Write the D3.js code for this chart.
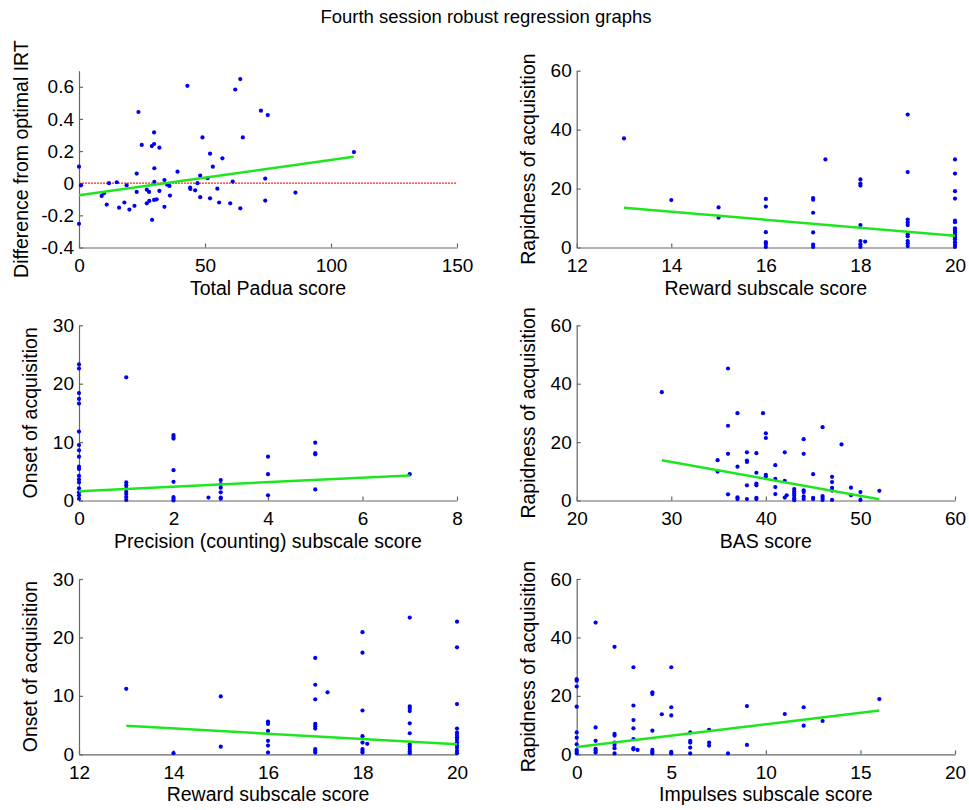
<!DOCTYPE html>
<html lang="en">
<head>
<meta charset="UTF-8">
<title>Fourth session robust regression graphs</title>
<style>
  body { margin: 0; background: #fff; }
  svg { display: block; font-family: Arial, "Liberation Sans", sans-serif; }
  .axis text { font-size: 19px; fill: #000; }
  .axis path, .axis line { stroke: #666; stroke-width: 1.2; }
  .label { font-size: 19.5px; fill: #000; }
  .title { font-size: 18.5px; fill: #000; }
</style>
</head>
<body>
<svg id="chart" width="969" height="810"></svg>
<script src="https://d3js.org/d3.v7.min.js"></script>
<script>
const chartTitle = "Fourth session robust regression graphs";

// panel 1: Total Padua score vs difference from optimal IRT
const paduaIrt = [[0,0.103],[0.8,-0.013],[0,-0.253],[9,-0.079],[9.9,-0.062],[11,-0.133],[11.9,0.0],[15,0.006],
  [15.9,-0.152],[18,-0.12],[18.9,-0.013],[20,-0.164],[22,-0.141],[22.9,0.06],[22.9,-0.054],[23.6,0.443],
  [24.9,0.238],[26.9,-0.04],[26.9,-0.125],[27.8,-0.054],[27.9,-0.11],[28.9,0.231],[29,-0.228],[29.8,0.244],
  [29.8,0.316],[29.9,0.093],[29.9,0.008],[29.8,-0.104],[30.8,-0.1],[31.9,0.221],[31.9,-0.048],[33.9,0.02],
  [33.9,-0.147],[35,-0.009],[35.9,-0.017],[36.1,-0.077],[39.1,0.072],[43,0.606],[44.1,-0.027],[44.2,-0.036],
  [46.1,-0.044],[47,0.0],[48.1,0.047],[48.1,-0.087],[49,0.285],[51,0.031],[52,0.184],[52,-0.094],[53.1,0.103],
  [54.9,-0.034],[55.6,-0.12],[56.9,0.155],[60,-0.125],[61,0.01],[62,0.583],[64,0.648],[64,-0.156],[65,0.285],
  [72.2,0.451],[73.9,0.029],[73.9,-0.108],[74.9,0.424],[85.9,-0.058],[109.1,0.194]];
const paduaIrtFit = [[0,-0.075],[109,0.165]];
const paduaXTicks = [0, 50, 100, 150];
const irtYTicks = [-0.4, -0.2, 0, 0.2, 0.4, 0.6];

// panel 2: reward subscale vs rapidness of acquisition
const rewardRapid = [[13,37.0],[14,16.1],[15,13.6],[15,10.1],[16,16.5],[16,13.9],[16,5.2],[16,1.8],[16,1.2],[16,0.2],
  [17,16.8],[17,16.2],[17,11.8],[17,5.1],[17,1.0],[17,0.2],[17.26,29.9],[18,23.1],[18,21.7],[18,21.0],[18,7.6],
  [18,2.2],[18,1.1],[18,0.2],[18.1,2.0],[19,45.1],[19,25.6],[19,9.5],[19,8.5],[19,7.6],[19,4.5],[19,3.8],[19,2.2],
  [19,1.4],[19,0.5],[20,29.9],[20,25.1],[20,19.1],[20,16.6],[20,9.1],[20,8.6],[20,6.5],[20,5.8],[20,5.1],[20,4.3],
  [20,3.5],[20,2.8],[20,1.8],[20,0.9],[20,0.2]];
const rewardRapidFit = [[13,13.5],[20,4.0]];

// panel 3: precision (counting) subscale vs onset of acquisition
const precisionOnset = [[0,23.3],[0,22.6],[0,18.4],[0,17.4],[0,16.6],[0,11.8],[0,9.5],[0,8.6],[0,7.5],[0,5.8],[0,5.4],
  [0,4.2],[0,3.6],[0,3.1],[0,2.1],[0,1.4],[0,0.9],[0,0.3],[1,21.1],[1,3.1],[1,2.6],[1,2.1],[1,1.5],[1,1.1],[1,0.6],
  [1,0.1],[2,11.2],[2,10.9],[2,10.6],[2,5.2],[2,3.2],[2,0.6],[2,0.3],[2,0.0],[2.74,0.5],[3,3.5],[3,2.8],[3,2.2],
  [3,1.4],[3,0.5],[3,0.3],[4,7.5],[4,4.5],[4,0.9],[5,9.9],[5,8.1],[5,7.9],[5,1.9],[7,4.5]];
const precisionOnsetFit = [[0,1.6],[7,4.3]];

// panel 4: BAS score vs rapidness of acquisition
const basRapid = [[29,37.1],[34.9,13.8],[34.9,9.9],[36,45.2],[36,25.6],[36,16.0],[36,2.1],[37,29.9],[37,11.6],[37,1.1],
  [37,0.5],[38,16.5],[38,13.7],[38,13.2],[38,5.2],[38,0.5],[39,16.2],[39,9.5],[39,5.8],[39,5.2],[39,0.9],[39,0.5],
  [39.7,29.9],[40,23.0],[40,21.4],[40,8.8],[40,8.2],[41,12.1],[41,7.4],[41,4.6],[41,2.2],[42,16.5],[42,6.7],[42,1.0],
  [42.2,1.8],[43,3.9],[43,3.1],[43,2.4],[43,1.6],[43,0.7],[43,0.1],[44,21.0],[44,16.0],[44,3.5],[44,2.9],[44,1.4],
  [44,0.5],[45,9.0],[45,0.9],[45,0.5],[46,25.1],[46,1.5],[46,0.9],[46,0.2],[47,8.1],[47,6.3],[47,4.3],[47,3.4],
  [47,0.2],[48,19.2],[49,4.4],[49,1.8],[50,2.9],[50,0.2],[52,3.3]];
const basRapidFit = [[29,13.8],[52,0.4]];

// panel 5: reward subscale vs onset of acquisition
const rewardOnset = [[13,11.2],[14,0.2],[15,9.9],[15,1.3],[16,5.6],[16,5.2],[16,4.0],[16,2.3],[16,1.5],[16,0.3],
  [17,16.5],[17,11.9],[17,9.4],[17,5.2],[17,4.8],[17,4.4],[17,0.9],[17,0.6],[17,0.3],[17.26,10.6],[18,20.9],
  [18,17.4],[18,7.5],[18,3.1],[18,2.0],[18,0.9],[18,0.6],[18,0.3],[18.1,1.8],[19,23.4],[19,8.2],[19,7.8],[19,7.4],
  [19,5.3],[19,3.6],[19,1.7],[19,1.3],[19,0.9],[19,0.5],[19,0.2],[20,22.7],[20,18.3],[20,8.6],[20,4.4],[20,3.7],
  [20,3.3],[20,2.9],[20,2.5],[20,2.0],[20,1.5],[20,1.1],[20,0.6],[20,0.2]];
const rewardOnsetFit = [[13,4.9],[20,1.7]];

// panel 6: impulses subscale vs rapidness of acquisition
const impulsesRapid = [[0,25.7],[0,25.2],[0,23.2],[0,16.3],[0,7.5],[0,5.7],[0,3.4],[0,1.5],[0,0.9],[0,0.3],[1,45.1],
  [1,9.2],[1,4.6],[1,1.9],[1,1.3],[1,0.6],[2,36.8],[2,7.0],[2,6.4],[2,4.0],[2,3.2],[2,2.1],[2,0.3],[3,29.8],[3,16.7],
  [3,11.7],[3,8.9],[3,5.2],[3,2.1],[3,1.7],[3.22,1.5],[4,21.2],[4,20.6],[4,8.1],[4,1.5],[4,0.9],[4,0.3],[4.5,13.7],
  [5,29.8],[5,16.1],[5,13.3],[5,0.8],[5,0.3],[6,7.5],[6,4.6],[6,4.0],[6,2.3],[6,0.3],[7,8.4],[7,4.0],[7,3.0],[8,0.3],
  [9,16.5],[9,3.2],[11,13.8],[12,16.1],[12,9.8],[13,11.4],[16,18.9]];
const impulsesRapidFit = [[0,2.5],[16,15.0]];

const rewardXTicks = [12, 14, 16, 18, 20];
const precisionXTicks = [0, 2, 4, 6, 8];
const basXTicks = [20, 30, 40, 50, 60];
const impulsesXTicks = [0, 5, 10, 15, 20];
const rapidYTicks = [0, 20, 40, 60];
const onsetYTicks = [0, 10, 20, 30];

const svg = d3.select("#chart");

svg.append("text")
  .attr("class", "title")
  .attr("x", 486)
  .attr("y", 23)
  .attr("text-anchor", "middle")
  .text(chartTitle);

// left column / right column, three rows
const cols = [[79, 457], [576.7, 955]];
const rows = [[70.7, 247.5], [325.3, 500.5], [579, 754.3]];

const panels = [
  { col: 0, row: 0, pts: paduaIrt, fit: paduaIrtFit, xd: [0, 150], yd: [-0.4, 0.7], xt: paduaXTicks, yt: irtYTicks,
    xl: "Total Padua score", yl: "Difference from optimal IRT", ylOff: 51, zero: true },
  { col: 1, row: 0, pts: rewardRapid, fit: rewardRapidFit, xd: [12, 20], yd: [0, 60], xt: rewardXTicks, yt: rapidYTicks,
    xl: "Reward subscale score", yl: "Rapidness of acquisition", ylOff: 42 },
  { col: 0, row: 1, pts: precisionOnset, fit: precisionOnsetFit, xd: [0, 8], yd: [0, 30], xt: precisionXTicks, yt: onsetYTicks,
    xl: "Precision (counting) subscale score", yl: "Onset of acquisition", ylOff: 42 },
  { col: 1, row: 1, pts: basRapid, fit: basRapidFit, xd: [20, 60], yd: [0, 60], xt: basXTicks, yt: rapidYTicks,
    xl: "BAS score", yl: "Rapidness of acquisition", ylOff: 42 },
  { col: 0, row: 2, pts: rewardOnset, fit: rewardOnsetFit, xd: [12, 20], yd: [0, 30], xt: rewardXTicks, yt: onsetYTicks,
    xl: "Reward subscale score", yl: "Onset of acquisition", ylOff: 42 },
  { col: 1, row: 2, pts: impulsesRapid, fit: impulsesRapidFit, xd: [0, 20], yd: [0, 60], xt: impulsesXTicks, yt: rapidYTicks,
    xl: "Impulses subscale score", yl: "Rapidness of acquisition", ylOff: 42 }
];

const fmt = d => String(+d.toFixed(1));

panels.forEach(p => {
  const [x0, x1] = cols[p.col];
  const [y0, y1] = rows[p.row];
  const x = d3.scaleLinear().domain(p.xd).range([x0, x1]);
  const y = d3.scaleLinear().domain(p.yd).range([y1, y0]);
  const g = svg.append("g");

  // zero reference line (first panel only)
  if (p.zero) {
    g.append("line")
      .attr("x1", x(p.xd[0])).attr("x2", x(p.xd[1]))
      .attr("y1", y(0)).attr("y2", y(0))
      .attr("stroke", "#f22")
      .attr("stroke-width", 1.3)
      .attr("stroke-dasharray", "2,1");
  }

  g.append("g")
    .attr("class", "axis")
    .attr("transform", `translate(0,${y1})`)
    .call(d3.axisBottom(x).tickValues(p.xt).tickFormat(fmt).tickSizeInner(-4).tickSizeOuter(0).tickPadding(11));

  g.append("g")
    .attr("class", "axis")
    .attr("transform", `translate(${x0},0)`)
    .call(d3.axisLeft(y).tickValues(p.yt).tickFormat(fmt).tickSizeInner(-4).tickSizeOuter(0).tickPadding(5));

  g.selectAll(".axis .domain").attr("stroke", "#666");

  // data points
  g.selectAll("circle")
    .data(p.pts)
    .enter()
    .append("circle")
    .attr("cx", d => x(d[0]))
    .attr("cy", d => y(d[1]))
    .attr("r", 2.1)
    .attr("fill", "#0000f0");

  // robust fit line
  g.append("path")
    .datum(p.fit)
    .attr("fill", "none")
    .attr("stroke", "#1ee61e")
    .attr("stroke-width", 2.5)
    .attr("d", d3.line().x(d => x(d[0])).y(d => y(d[1])));

  // labels
  g.append("text")
    .attr("class", "label")
    .attr("x", (x0 + x1) / 2)
    .attr("y", y1 + 47)
    .attr("text-anchor", "middle")
    .text(p.xl);

  g.append("text")
    .attr("class", "label")
    .attr("transform", `translate(${x0 - p.ylOff},${(y0 + y1) / 2}) rotate(-90)`)
    .attr("text-anchor", "middle")
    .text(p.yl);
});
</script>
</body>
</html>
